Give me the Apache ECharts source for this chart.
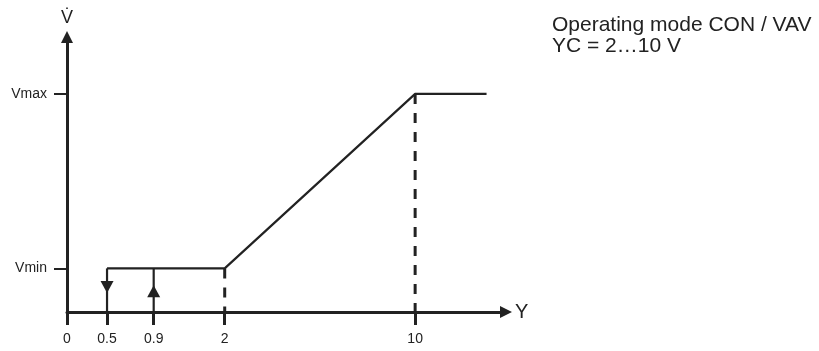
<!DOCTYPE html>
<html>
<head>
<meta charset="utf-8">
<script src="https://cdn.jsdelivr.net/npm/echarts@6/dist/echarts.min.js"></script>
<style>
  html, body { margin: 0; padding: 0; background: #fff; }
  #chart { width: 819px; height: 351px; }
</style>
</head>
<body>
<div id="chart"></div>
<script>
// control signal Y (V) on x, volume flow on y
const yTicks = [0, 0.5, 0.9, 2, 10]
const yTickLabels = ['0', '0.5', '0.9', '2', '10']
const flowLevels = [0.2, 1.0]
const flowLabels = ['Vmin', 'Vmax']

// characteristic curve
const curveY = [0.5, 2, 10, 13]
const curveV = [0.2, 0.2, 1.0, 1.0]

// hysteresis switch points (off at 0.5, on at 0.9)
const switchY = [0.5, 0.9]
const switchDir = ['down', 'up']
const switchArrowV = [0.115, 0.095]

// dashed guide lines
const guideY = [2, 10]
const guideV = [0.2, 1.0]

// the x axis is not linear in the drawing: piecewise scale
const scaleIn = [0, 0.5, 0.9, 2, 10]
const scaleOut = [0, 1.15, 2.49, 4.53, 10]
function sx(y) {
  let i = 0
  while (i < scaleIn.length - 2 && y > scaleIn[i + 1]) i++
  const k = (scaleOut[i + 1] - scaleOut[i]) / (scaleIn[i + 1] - scaleIn[i])
  return scaleOut[i] + (y - scaleIn[i]) * k
}

const ink = '#222'
const chart = echarts.init(document.getElementById('chart'))

const series = [
  {
    type: 'line',
    data: curveY.map((y, i) => [sx(y), curveV[i]]),
    showSymbol: false,
    lineStyle: { color: ink, width: 2.2 },
    z: 3
  }
]
switchY.forEach((y) => {
  series.push({
    type: 'line',
    data: [[sx(y), flowLevels[0]], [sx(y), 0]],
    showSymbol: false,
    lineStyle: { color: ink, width: 2.2 }
  })
})
guideY.forEach((y, i) => {
  series.push({
    type: 'line',
    data: [[sx(y), guideV[i]], [sx(y), 0]],
    showSymbol: false,
    lineStyle: { color: ink, width: 3, type: [10, 9] }
  })
})
series.push({
  type: 'scatter',
  data: switchY.map((y, i) => ({
    value: [sx(y), switchArrowV[i]],
    symbolRotate: switchDir[i] === 'down' ? 180 : 0
  })),
  symbol: 'triangle',
  symbolSize: [13, 12],
  itemStyle: { color: ink, opacity: 1 },
  z: 4
})

const option = {
  animation: false,
  grid: { left: 67, right: 313, top: 37, bottom: 39 },
  xAxis: {
    type: 'value',
    min: 0,
    max: 12.61,
    name: 'Y',
    nameLocation: 'end',
    nameGap: 9,
    nameTextStyle: { color: ink, fontSize: 20, fontFamily: 'Liberation Sans' },
    splitLine: { show: false },
    axisLine: {
      onZero: false,
      lineStyle: { color: ink, width: 3 },
      symbol: ['none', 'triangle'],
      symbolSize: [12, 12]
    },
    axisTick: {
      customValues: yTicks.map(sx),
      length: 13,
      lineStyle: { color: ink, width: 3 }
    },
    axisLabel: {
      customValues: yTicks.map(sx),
      formatter: (v) => {
        const i = yTicks.findIndex((t) => Math.abs(sx(t) - v) < 1e-6)
        return i >= 0 ? yTickLabels[i] : ''
      },
      margin: 20,
      color: ink,
      fontSize: 14,
      fontFamily: 'Liberation Sans'
    }
  },
  yAxis: {
    type: 'value',
    min: 0,
    max: 1.261,
    name: 'V\u0307',
    nameLocation: 'end',
    nameGap: 10,
    nameTextStyle: { color: ink, fontSize: 18, fontFamily: 'Liberation Sans', align: 'center' },
    splitLine: { show: false },
    axisLine: {
      onZero: false,
      lineStyle: { color: ink, width: 3 },
      symbol: ['none', 'triangle'],
      symbolSize: [12, 12]
    },
    axisTick: {
      customValues: flowLevels,
      length: 13,
      lineStyle: { color: ink, width: 2 }
    },
    axisLabel: {
      customValues: flowLevels,
      formatter: (v) => flowLabels[flowLevels.indexOf(v)] || '',
      margin: 20,
      color: ink,
      fontSize: 14,
      fontFamily: 'Liberation Sans'
    }
  },
  graphic: [
    {
      type: 'text',
      left: 552,
      top: 15,
      style: {
        text: 'Operating mode CON / VAV\nYC = 2\u202610 V',
        fill: ink,
        fontSize: 21,
        lineHeight: 21,
        fontFamily: 'Liberation Sans'
      }
    }
  ],
  series: series
}

chart.setOption(option)
window.addEventListener('resize', () => chart.resize())
</script>
</body>
</html>
